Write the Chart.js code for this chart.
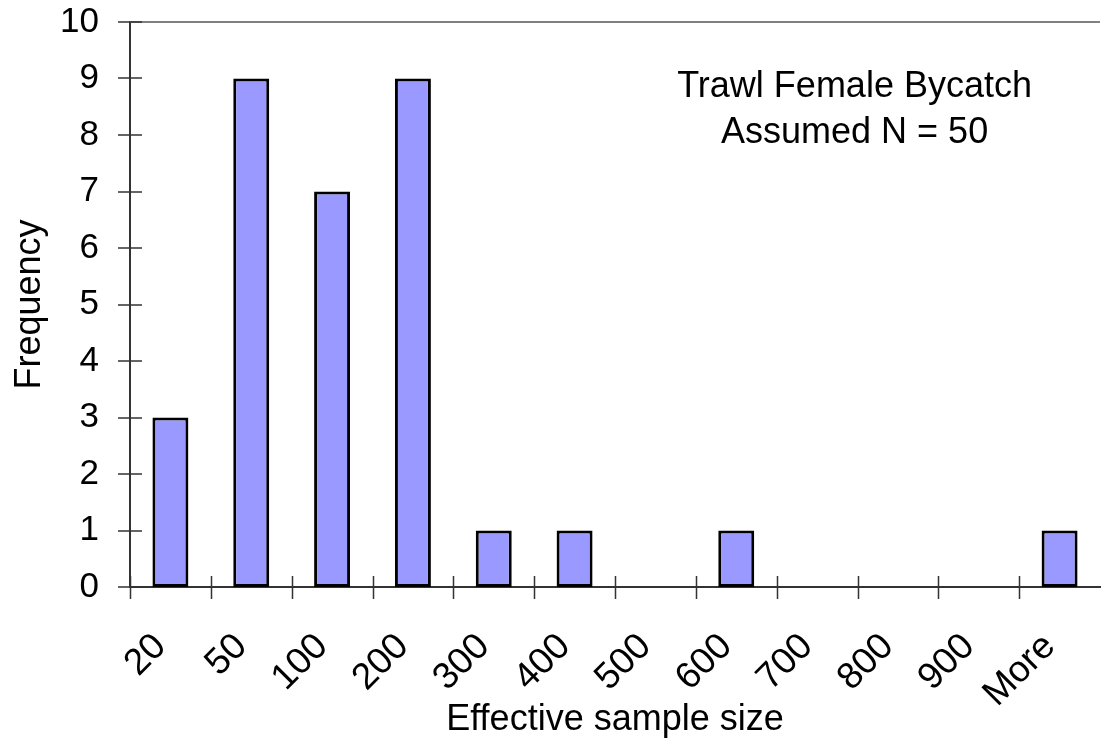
<!DOCTYPE html>
<html>
<head>
<meta charset="utf-8">
<script src="https://cdn.jsdelivr.net/npm/chart.js@4.4.0/dist/chart.umd.min.js"></script>
<style>
  html, body { margin: 0; padding: 0; background: #fff; }
  canvas { display: block; }
</style>
</head>
<body>
<canvas id="chart" width="1106" height="750"></canvas>
<script>
// histogram bins (upper bounds) and counts
const binLabels = ['20', '50', '100', '200', '300', '400', '500', '600', '700', '800', '900', 'More'];
const frequency = [3, 9, 7, 9, 1, 1, 0, 1, 0, 0, 0, 1];
const yMin = 0;
const yMax = 10;
const noteLines = ['Trawl Female Bycatch', 'Assumed N = 50'];

const FONT = "'Liberation Sans', Arial, sans-serif";
const AXIS_COLOR = '#333333';

// excel-ish frame: grey top line, ticks that cross the axes, and the note
const frame = {
	id: 'frame',
	afterDraw(chart) {
		const { ctx, chartArea: a, scales: { x, y } } = chart;
		ctx.save();
		ctx.strokeStyle = '#808080';
		ctx.lineWidth = 2;
		ctx.beginPath();
		ctx.moveTo(a.left, a.top);
		ctx.lineTo(a.right, a.top);
		ctx.stroke();

		ctx.strokeStyle = AXIS_COLOR;
		ctx.lineWidth = 1.5;
		ctx.beginPath();
		y.ticks.forEach(t => {
			const py = Math.round(y.getPixelForValue(t.value));
			ctx.moveTo(a.left - 12, py);
			ctx.lineTo(a.left + 12, py);
		});
		for (let i = 0; i < binLabels.length; i++) {
			const px = Math.round(x.getPixelForValue(i - 0.5)) + 0.5;
			ctx.moveTo(px, a.bottom - 11);
			ctx.lineTo(px, a.bottom + 12);
		}
		ctx.stroke();

		ctx.fillStyle = '#000';
		ctx.font = '36px ' + FONT;
		ctx.textAlign = 'center';
		ctx.textBaseline = 'alphabetic';
		const cx = a.left + a.width * 0.747;
		noteLines.forEach((line, i) => {
			ctx.fillText(line, cx, a.top + 75 + i * 46);
		});
		ctx.restore();
	}
};

new Chart(document.getElementById('chart'), {
	type: 'bar',
	data: {
		labels: binLabels,
		datasets: [{
			data: frequency,
			backgroundColor: '#9999FF',
			borderColor: '#000000',
			borderWidth: 3,
			borderSkipped: false,
			barPercentage: 0.445,
			categoryPercentage: 1
		}]
	},
	options: {
		responsive: false,
		animation: false,
		devicePixelRatio: 1,
		layout: { padding: { top: 22, right: 6, left: 0, bottom: 0 } },
		plugins: {
			legend: { display: false },
			tooltip: { enabled: false }
		},
		scales: {
			x: {
				grid: { display: false },
				border: { display: true, color: AXIS_COLOR, width: 2 },
				ticks: {
					color: '#000',
					font: { family: FONT, size: 37 },
					minRotation: 45,
					maxRotation: 45,
					autoSkip: false,
					padding: 30,
					labelOffset: -10
				},
				title: {
					display: true,
					text: 'Effective sample size',
					color: '#000',
					font: { family: FONT, size: 36 },
					padding: { top: 0, bottom: 8 }
				},
				afterFit(scale) {
					scale.height = 163;
					scale.paddingLeft = 0;
					scale.paddingRight = 0;
				}
			},
			y: {
				min: yMin,
				max: yMax,
				grid: { display: false },
				border: { display: true, color: AXIS_COLOR, width: 2 },
				ticks: {
					stepSize: 1,
					color: '#000',
					font: { family: FONT, size: 35 },
					padding: 23
				},
				title: {
					display: true,
					text: 'Frequency',
					color: '#000',
					font: { family: FONT, size: 36 },
					padding: { top: 8, bottom: 0 }
				},
				afterFit(scale) {
					scale.width = 130;
					scale.paddingTop = 0;
					scale.paddingBottom = 0;
				}
			}
		}
	},
	plugins: [frame]
});
</script>
</body>
</html>
